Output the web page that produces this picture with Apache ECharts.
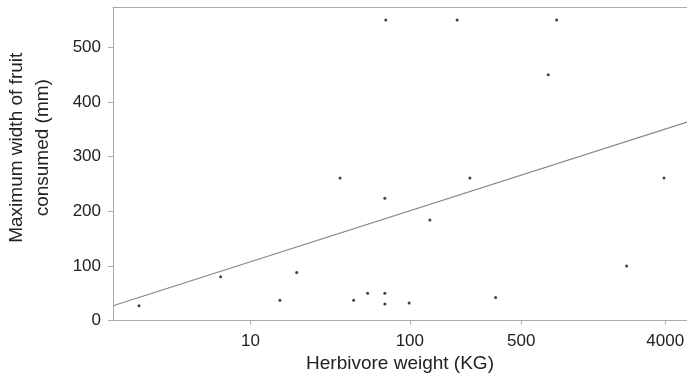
<!DOCTYPE html>
<html><head><meta charset="utf-8">
<script src="https://cdn.jsdelivr.net/npm/echarts@6/dist/echarts.min.js"></script>
<style>html,body{margin:0;padding:0;background:#fff}#c{width:687px;height:381px}</style>
</head><body><div id="c"></div>
<script>
// Herbivore weight (kg) and maximum fruit width (mm)
const weights = [2.0, 6.5, 15.3, 19.5, 36.5, 44.4, 54.3, 69.7, 69.7, 69.7, 70.6, 99, 133.6, 198, 238, 345, 738, 834, 2291, 3930];
const widths  = [27, 80, 37, 88, 261, 37, 50, 50, 30, 224, 550, 32, 184, 550, 261, 42, 450, 550, 100, 261];
const xTicks = [10, 100, 500, 4000];
const yTicks = [0, 100, 200, 300, 400, 500];
// fitted trend: width = a + b*log10(weight)
const fitA = 14.2, fitB = 93.4;
const xMin = 1.373, xMax = 5480;

const points = weights.map((w, i) => [w, widths[i]]);
const fitLine = [xMin, xMax].map(w => [w, fitA + fitB * Math.log10(w)]);

const chart = echarts.init(document.getElementById('c'));
const font = 'Liberation Sans, Arial, sans-serif';
chart.setOption({
  animation: false,
  grid: {left: 113, top: 7, right: 0, bottom: 60.5, outerBoundsMode: 'none', containLabel: false},
  xAxis: [{
    type: 'log', min: xMin, max: xMax, logBase: 10,
    name: 'Herbivore weight (KG)', nameLocation: 'middle', nameGap: 31,
    nameTextStyle: {fontFamily: font, fontSize: 19, color: '#222'},
    axisLine: {lineStyle: {color: '#aaa'}},
    axisTick: {show: true, length: 4, lineStyle: {color: '#aaa'}, customValues: xTicks},
    axisLabel: {fontFamily: font, fontSize: 17, color: '#222', margin: 12, customValues: xTicks,
      formatter: v => String(Math.round(v))},
    splitLine: {show: false}, minorTick: {show: false}
  }, {
    type: 'value', position: 'top', min: 0, max: 1,
    axisLine: {show: true, lineStyle: {color: '#aaa'}},
    axisTick: {show: false}, axisLabel: {show: false}, splitLine: {show: false}
  }],
  yAxis: {
    type: 'value', min: 0, max: 574, interval: 100,
    name: 'Maximum width of fruit\nconsumed (mm)', nameLocation: 'middle', nameGap: 57,
    nameTextStyle: {fontFamily: font, fontSize: 19, color: '#222', lineHeight: 26, padding: [0, 0, 0, 32]},
    axisLine: {show: true, lineStyle: {color: '#aaa'}},
    axisTick: {show: true, length: 5, lineStyle: {color: '#aaa'}, customValues: yTicks},
    axisLabel: {fontFamily: font, fontSize: 17, color: '#222', margin: 12, customValues: yTicks},
    splitLine: {show: false}
  },
  series: [{
    type: 'line', data: fitLine, showSymbol: false, symbol: 'none',
    lineStyle: {color: '#888', width: 1.2}, z: 1
  }, {
    type: 'scatter', data: points, symbol: 'circle', symbolSize: 3,
    itemStyle: {color: '#111'}, z: 2
  }]
});
</script></body></html>
